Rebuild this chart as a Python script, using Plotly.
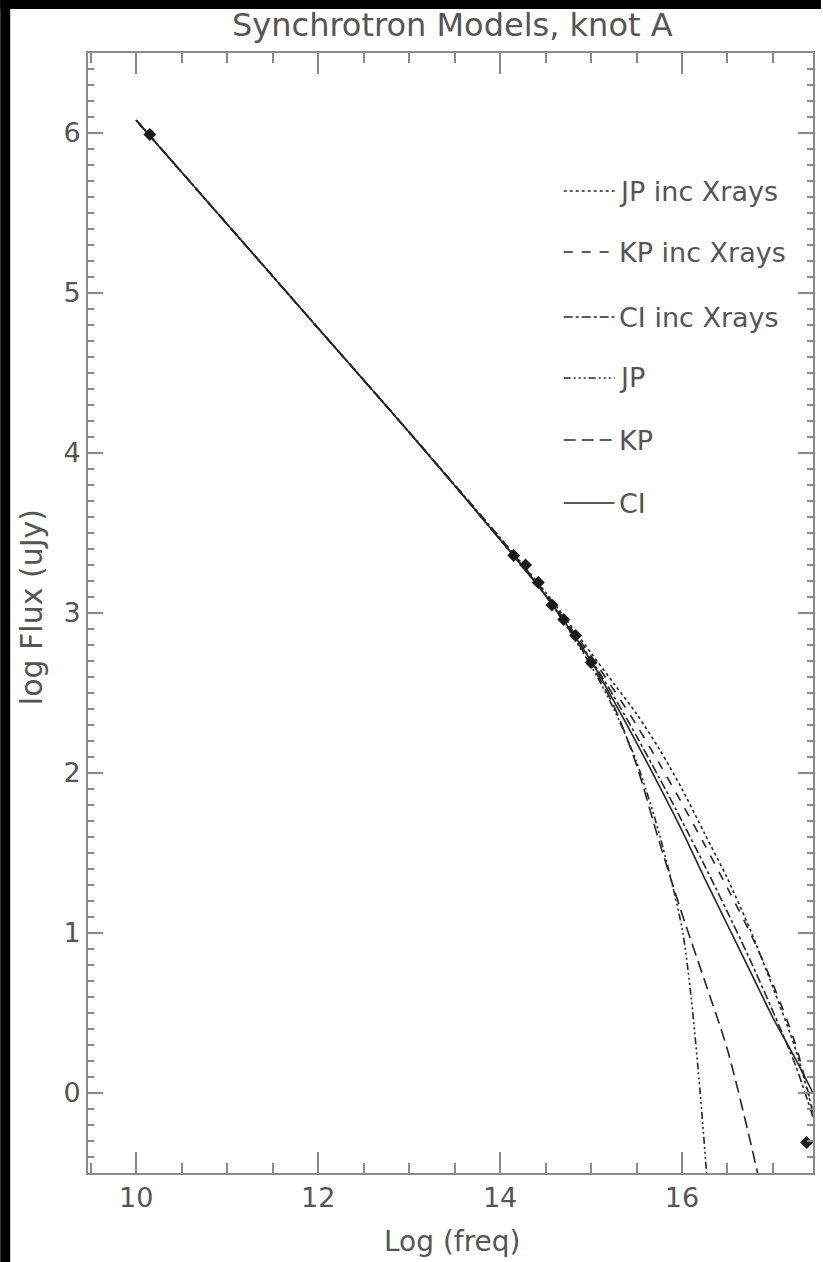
import plotly.graph_objects as go

# ---- model curves: log flux vs log frequency ----
x_ci = [10.0, 11.0, 12.0, 13.0, 14.0, 14.5, 15.0, 15.25, 15.5, 15.75, 16.0, 16.25, 16.5, 16.75, 17.0, 17.25, 17.44]
y_ci = [6.08, 5.43, 4.78, 4.13, 3.46, 3.11, 2.70, 2.45, 2.19, 1.92, 1.64, 1.34, 1.05, 0.76, 0.47, 0.21, 0.00]

x_kp = [10.0, 11.0, 12.0, 13.0, 14.0, 14.5, 15.0, 15.25, 15.5, 15.75, 16.0, 16.25, 16.5, 16.75, 16.83]
y_kp = [6.08, 5.43, 4.78, 4.13, 3.46, 3.11, 2.68, 2.42, 2.05, 1.57, 1.12, 0.70, 0.27, -0.30, -0.50]

x_jp = [10.0, 11.0, 12.0, 13.0, 14.0, 14.5, 15.0, 15.25, 15.5, 15.75, 16.0, 16.1, 16.2, 16.27]
y_jp = [6.08, 5.43, 4.78, 4.13, 3.46, 3.11, 2.67, 2.40, 2.07, 1.62, 1.03, 0.60, 0.00, -0.50]

x_jpx = [10.0, 11.0, 12.0, 13.0, 14.0, 14.5, 15.0, 15.25, 15.5, 15.75, 16.0, 16.25, 16.5, 16.75, 17.0, 17.25, 17.44]
y_jpx = [6.08, 5.43, 4.78, 4.13, 3.47, 3.13, 2.75, 2.56, 2.37, 2.15, 1.90, 1.62, 1.34, 1.02, 0.66, 0.27, -0.12]

x_kpx = [10.0, 11.0, 12.0, 13.0, 14.0, 14.5, 15.0, 15.25, 15.5, 15.75, 16.0, 16.25, 16.5, 16.75, 17.0, 17.25, 17.44]
y_kpx = [6.08, 5.43, 4.78, 4.13, 3.47, 3.12, 2.73, 2.52, 2.30, 2.06, 1.81, 1.55, 1.28, 1.00, 0.68, 0.30, -0.12]

x_cix = [10.0, 11.0, 12.0, 13.0, 14.0, 14.5, 15.0, 15.25, 15.5, 15.75, 16.0, 16.25, 16.5, 16.75, 17.0, 17.25, 17.44]
y_cix = [6.08, 5.43, 4.78, 4.13, 3.46, 3.11, 2.71, 2.48, 2.23, 1.97, 1.70, 1.42, 1.13, 0.83, 0.51, 0.17, -0.15]

# ---- observed fluxes (radio, optical, X-ray) ----
obs_x = [10.15, 14.15, 14.28, 14.42, 14.57, 14.70, 14.83, 15.00, 17.37]
obs_y = [5.99, 3.36, 3.30, 3.19, 3.05, 2.96, 2.86, 2.69, -0.31]

# ---- legend entries: label, dash pattern ----
legend_labels = ["JP inc Xrays", "KP inc Xrays", "CI inc Xrays", "JP", "KP", "CI"]
legend_dashes = ["dot", "dash", "dashdot", "7px,3px,2px,3px,2px,3px,2px,3px", "12px,6px", "solid"]

W, H = 823, 1262
ML, MR, MT, MB = 88, 8, 53, 89
PW, PH = W - ML - MR, H - MT - MB

def px2x(px):
    return (px - ML) / PW

def px2y(py):
    return 1 - (py - MT) / PH

line_col = "#262626"
axis_col = "#8a8a8a"
text_col = "#555555"
FONT = "DejaVu Sans"

fig = go.Figure()

curves = [
    (x_jpx, y_jpx, legend_dashes[0], legend_labels[0]),
    (x_kpx, y_kpx, legend_dashes[1], legend_labels[1]),
    (x_cix, y_cix, legend_dashes[2], legend_labels[2]),
    (x_jp, y_jp, legend_dashes[3], legend_labels[3]),
    (x_kp, y_kp, legend_dashes[4], legend_labels[4]),
    (x_ci, y_ci, legend_dashes[5], legend_labels[5]),
]
for xs, ys, dash, name in curves:
    fig.add_trace(go.Scatter(
        x=xs, y=ys, mode="lines", name=name,
        line=dict(color=line_col, width=1.6, dash=dash, shape="spline", smoothing=0.8),
        showlegend=False,
    ))

fig.add_trace(go.Scatter(
    x=obs_x, y=obs_y, mode="markers", name="data",
    marker=dict(symbol="diamond", size=10, color="#1a1a1a"),
    showlegend=False,
))

# hand-built legend in the upper right of the frame
row_y = [191, 252, 317, 378, 440, 503]
for lab, dash, ry in zip(legend_labels, legend_dashes, row_y):
    fig.add_shape(type="line", xref="paper", yref="paper",
                  x0=px2x(565), x1=px2x(616), y0=px2y(ry), y1=px2y(ry),
                  line=dict(color=line_col, width=1.6, dash=dash))
    fig.add_annotation(xref="paper", yref="paper", x=px2x(618), y=px2y(ry),
                       text=lab, showarrow=False, xanchor="left", yanchor="middle",
                       font=dict(family=FONT, size=27, color=text_col))

# title and axis titles
fig.add_annotation(xref="paper", yref="paper", x=px2x(454), y=px2y(25),
                   text="Synchrotron Models, knot A", showarrow=False,
                   xanchor="center", yanchor="middle",
                   font=dict(family=FONT, size=32, color=text_col))
fig.add_annotation(xref="paper", yref="paper", x=px2x(454), y=px2y(1242),
                   text="Log (freq)", showarrow=False,
                   xanchor="center", yanchor="middle",
                   font=dict(family=FONT, size=28, color=text_col))
fig.add_annotation(xref="paper", yref="paper", x=px2x(31), y=px2y(607),
                   text="log Flux (uJy)", showarrow=False, textangle=-90,
                   xanchor="center", yanchor="middle",
                   font=dict(family=FONT, size=30, color=text_col))

# black strips along the left and top edges
fig.add_shape(type="rect", xref="paper", yref="paper", layer="above",
              x0=px2x(0), x1=px2x(10), y0=px2y(H), y1=px2y(0),
              fillcolor="black", line=dict(width=0))
fig.add_shape(type="rect", xref="paper", yref="paper", layer="above",
              x0=px2x(0), x1=px2x(W), y0=px2y(9), y1=px2y(0),
              fillcolor="black", line=dict(width=0))

fig.update_layout(
    width=W, height=H,
    margin=dict(l=ML, r=MR, t=MT, b=MB, pad=0),
    paper_bgcolor="white", plot_bgcolor="white",
    showlegend=False,
    xaxis=dict(
        range=[9.47, 17.44], tickvals=[10, 12, 14, 16], ticktext=["10", "12", "14", "16"],
        ticks="inside", ticklen=21, tickwidth=2, tickcolor=axis_col,
        showline=True, linecolor=axis_col, linewidth=2, mirror="allticks",
        showgrid=False, zeroline=False,
        minor=dict(dtick=0.5, tick0=10, ticks="inside", ticklen=10, tickwidth=2, tickcolor=axis_col, showgrid=False),
        tickfont=dict(family=FONT, size=27, color=text_col),
    ),
    yaxis=dict(
        range=[-0.5, 6.5], tickvals=[0, 1, 2, 3, 4, 5, 6],
        ticks="inside", ticklen=15, tickwidth=2, tickcolor=axis_col,
        showline=True, linecolor=axis_col, linewidth=2, mirror="allticks",
        showgrid=False, zeroline=False,
        minor=dict(dtick=0.1, tick0=0, ticks="inside", ticklen=6, tickwidth=2, tickcolor=axis_col, showgrid=False),
        tickfont=dict(family=FONT, size=27, color=text_col),
    ),
)

fig.write_html("out.html")
